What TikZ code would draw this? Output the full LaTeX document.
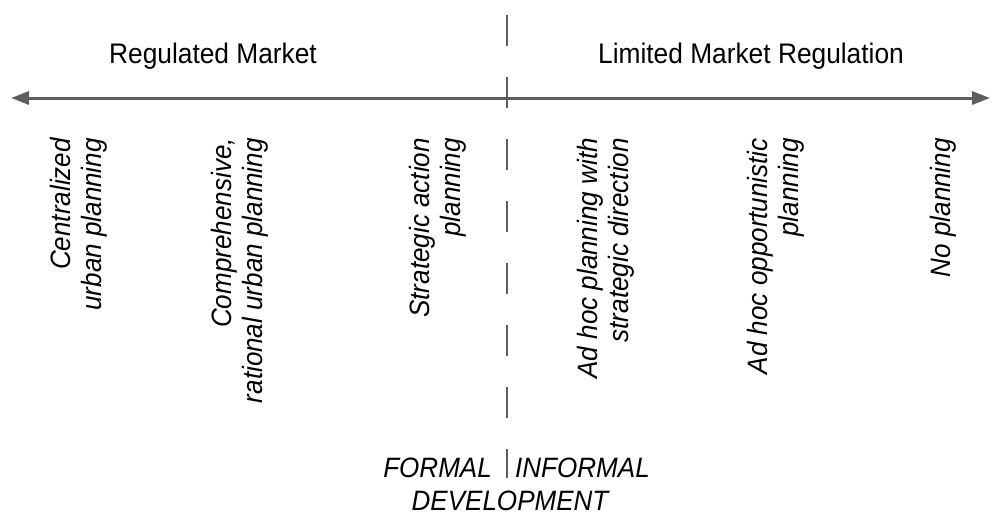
\documentclass[tikz,border=0pt]{standalone}
\usepackage{fontspec}
\setmainfont{Liberation Sans}[FakeStretch=0.93]
\usetikzlibrary{arrows.meta}
\definecolor{axisgray}{HTML}{5E5E5E}
\tikzset{
  axisline/.style={draw=axisgray, line width=3pt, {Triangle[length=18pt,width=13pt]}-{Triangle[length=18pt,width=13pt]}},
  divider/.style={draw=axisgray, line width=2.6pt, dash pattern=on 31pt off 31pt},
  head/.style={font=\fontsize{28.3}{33}\selectfont, inner sep=0pt, text=black},
  lab/.style={font=\fontsize{28}{31}\selectfont\itshape, inner sep=0pt, rotate=90, anchor=east, align=right, text=black},
  foot/.style={font=\fontsize{28}{33}\selectfont\itshape, inner sep=0pt, text=black}
}
\begin{document}
\begin{tikzpicture}[x=1pt,y=1pt]
\useasboundingbox (0,0) rectangle (992,-517);
% axis
\coordinate (L) at (11,-98);
\coordinate (R) at (990,-98);
\draw[axisline] (L) -- (R);
% divider
\coordinate (dtop) at (507,-15);
\coordinate (dbot) at (507,-478);
\draw[divider] (dtop) -- (dbot);
% headings
\node[head, anchor=base] (reg) at (213,-63) {Regulated Market};
\node[head, anchor=base] (lim) at (751,-63) {Limited Market Regulation};
% rotated labels
\node[lab] (c1) at (79,-138) {Centralized\\urban planning};
\node[lab] (c2) at (240,-138) {Comprehensive,\\rational urban planning};
\node[lab] (c3) at (438,-138) {Strategic action\\planning};
\node[lab] (c4) at (606,-138) {Ad hoc planning with\\strategic direction};
\node[lab] (c5) at (776,-138) {Ad hoc opportunistic\\planning};
\node[lab] (c6) at (943,-138) {No planning};
% footer
\node[foot, anchor=base east] (formal) at (492,-477) {FORMAL};
\node[foot, anchor=base west] (informal) at (515,-477) {INFORMAL};
\node[foot, anchor=base] (dev) at (510,-510) {DEVELOPMENT};
\end{tikzpicture}
\end{document}
